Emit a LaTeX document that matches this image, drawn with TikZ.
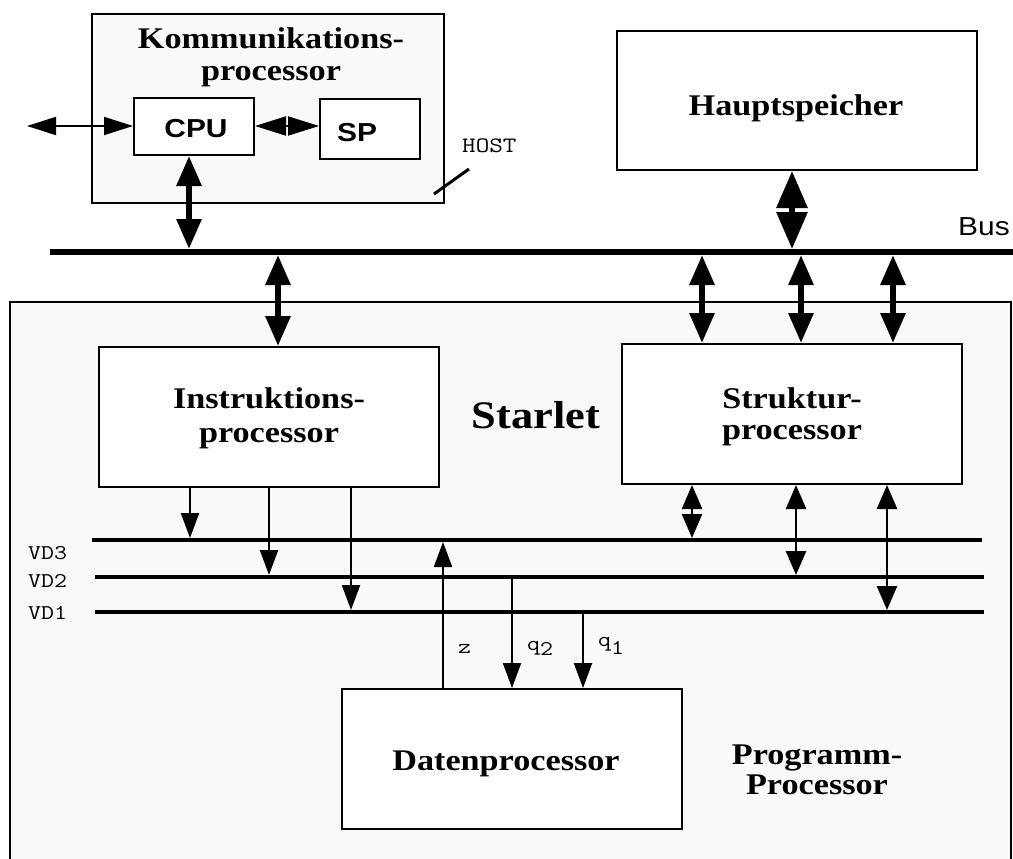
\documentclass[tikz,border=0pt]{standalone}
\usepackage{fontspec}
\usepackage{graphicx}
\setmainfont{Liberation Serif}
\newfontfamily\tbf{Liberation Serif}[FakeStretch=1.14]
\newfontfamily\hv{Liberation Sans}[FakeStretch=1.15]
\usetikzlibrary{arrows.meta}
\definecolor{bgc}{RGB}{249,249,249}
\newcommand\mtx[1]{\scalebox{1.2}[1]{#1}}
\begin{document}
\begin{tikzpicture}[x=1pt,y=-1pt,
  box/.style={draw=black,line width=2pt,fill=white,inner sep=0pt,anchor=north west},
  serifbold/.style={font=\tbf\bfseries\fontsize{30}{32}\selectfont,inner sep=0pt,align=center},
  sansbold/.style={font=\hv\bfseries\fontsize{26}{28}\selectfont,inner sep=0pt,anchor=base},
  monotext/.style={font=\ttfamily\fontsize{21}{22}\selectfont,inner sep=0pt,anchor=base west},
  busline/.style={line width=6pt},
  vdline/.style={line width=4pt},
  bigarr/.style={line width=6pt,arrows={Triangle[length=30pt,width=24pt]-Triangle[length=30pt,width=24pt]}},
  hugearr/.style={line width=6pt,arrows={Triangle[length=37pt,width=30pt]-Triangle[length=37pt,width=30pt]}},
  thinarr/.style={line width=2pt,arrows={-Triangle[length=25pt,width=18pt]}},
  midarr/.style={line width=2.5pt,arrows={Triangle[length=24pt,width=20pt]-Triangle[length=24pt,width=20pt]}},
  sidearr/.style={line width=2pt,arrows={Triangle[length=29pt,width=18pt]-Triangle[length=29pt,width=18pt]}},
]
\useasboundingbox (0,0) rectangle (1013,859);
\clip (0,0) rectangle (1013,859);

% outer boxes
\node[box,fill=bgc,minimum width=1001pt,minimum height=620pt] (prog) at (9,301) {};
\node[box,fill=bgc,minimum width=352pt,minimum height=189pt] (komm) at (91,13) {};

% inner boxes
\node[box,minimum width=120pt,minimum height=57pt] (cpu) at (133,97) {};
\node[box,minimum width=100pt,minimum height=60pt] (sp) at (319,98) {};
\node[box,minimum width=360pt,minimum height=139pt] (haupt) at (616,30) {};
\node[box,minimum width=340pt,minimum height=140pt] (instr) at (98,346) {};
\node[box,minimum width=340pt,minimum height=140pt] (strukt) at (621,343) {};
\node[box,minimum width=340pt,minimum height=140pt] (daten) at (341,688) {};

% helper coordinates
\coordinate (busL) at (50,252);
\coordinate (busR) at (1013,252);
\coordinate (busT) at (0,249);
\coordinate (busB) at (0,255);
\coordinate (vd3L) at (92,540);  \coordinate (vd3R) at (982,540);
\coordinate (vd2L) at (95,577);  \coordinate (vd2R) at (984,577);
\coordinate (vd1L) at (95,612);  \coordinate (vd1R) at (984,612);
\coordinate (vd3t) at (0,538); \coordinate (vd3b) at (0,542);
\coordinate (vd2t) at (0,575);
\coordinate (vd1t) at (0,610);
\coordinate (ext) at (27,126);
\coordinate (colCPU) at (189,0);
\coordinate (colHS) at (792,0);
\coordinate (colI) at (278,0);
\coordinate (colS1) at (702,0);
\coordinate (colS2) at (801,0);
\coordinate (colS3) at (893,0);
\coordinate (colI1) at (190,0);
\coordinate (colI2) at (269,0);
\coordinate (colI3) at (351,0);
\coordinate (colD1) at (692,0);
\coordinate (colD2) at (796,0);
\coordinate (colD3) at (887,0);
\coordinate (colZ) at (443,0);
\coordinate (colQ2) at (512,0);
\coordinate (colQ1) at (583,0);
\coordinate (hostA) at (434,194);
\coordinate (hostB) at (469,169);

% bus and VD lines
\draw[busline] (busL) -- (busR);
\draw[vdline] (vd3L) -- (vd3R);
\draw[vdline] (vd2L) -- (vd2R);
\draw[vdline] (vd1L) -- (vd1R);

% connectors in Kommunikationsprocessor
\draw[sidearr] (ext) -- (ext -| cpu.west);
\draw[sidearr,arrows={Triangle[length=31pt,width=19pt]-Triangle[length=31pt,width=19pt]}] (ext -| cpu.east) -- (ext -| sp.west);
\draw[bigarr] (cpu.south -| colCPU) -- (busT -| colCPU);
\draw[line width=3pt] (hostA) -- (hostB);

% bus connectors
\draw[hugearr] (haupt.south -| colHS) -- (busT -| colHS);
\draw[bigarr] (busB -| colI) -- (instr.north -| colI);
\draw[bigarr] (busB -| colS1) -- (strukt.north -| colS1);
\draw[bigarr] (busB -| colS2) -- (strukt.north -| colS2);
\draw[bigarr] (busB -| colS3) -- (strukt.north -| colS3);

% Instruktionsprocessor -> VD
\draw[thinarr] (instr.south -| colI1) -- (vd3t -| colI1);
\draw[thinarr] (instr.south -| colI2) -- (vd2t -| colI2);
\draw[thinarr] (instr.south -| colI3) -- (vd1t -| colI3);

% Strukturprocessor <-> VD
\draw[midarr] (strukt.south -| colD1) -- (vd3t -| colD1);
\draw[midarr] (strukt.south -| colD2) -- (vd2t -| colD2);
\draw[midarr] (strukt.south -| colD3) -- (vd1t -| colD3);

% Datenprocessor
\draw[thinarr] (daten.north -| colZ) -- (vd3b -| colZ);
\draw[thinarr] (vd2L -| colQ2) -- (daten.north -| colQ2);
\draw[thinarr] (vd1L -| colQ1) -- (daten.north -| colQ1);

% texts
\node[serifbold] (tkomm) at (271,57) {Kommunikations-\\processor};
\node[sansbold] (tcpu) at (196,138) {CPU};
\node[sansbold] (tsp) at (357,142) {SP};
\node[monotext,font=\ttfamily\fontsize{22}{24}\selectfont] (thost) at (462,152) {\mtx{HOST}};
\node[font=\hv\fontsize{26}{28}\selectfont,inner sep=0pt,anchor=base west] (tbus) at (958,235) {Bus};
\node[serifbold,anchor=base] (thaupt) at (796,115) {Hauptspeicher};
\node[serifbold,font=\tbf\bfseries\fontsize{30}{34}\selectfont] (tinstr) at (269,418) {Instruktions-\\processor};
\node[serifbold,font=\tbf\bfseries\fontsize{39}{40}\selectfont,anchor=base] (tstar) at (536,428) {Starlet};
\node[serifbold,font=\tbf\bfseries\fontsize{30}{31}\selectfont] (tstrukt) at (792,417) {Struktur-\\processor};
\node[serifbold,anchor=base] (tdaten) at (506,770) {Datenprocessor};
\node[serifbold,font=\tbf\bfseries\fontsize{30}{30}\selectfont] (tprog) at (817,770) {Programm-\\Processor};
\node[monotext] (tvd3) at (28,559) {\mtx{VD3}};
\node[monotext] (tvd2) at (28,587) {\mtx{VD2}};
\node[monotext] (tvd1) at (28,619) {\mtx{VD1}};
\node[monotext] (tz) at (458,653) {\mtx{z}};
\node[monotext] (tq2) at (527,650) {\mtx{q\raisebox{-5pt}{2}}};
\node[monotext] (tq1) at (598,646) {\mtx{q\raisebox{-8pt}{1}}};
\end{tikzpicture}
\end{document}
